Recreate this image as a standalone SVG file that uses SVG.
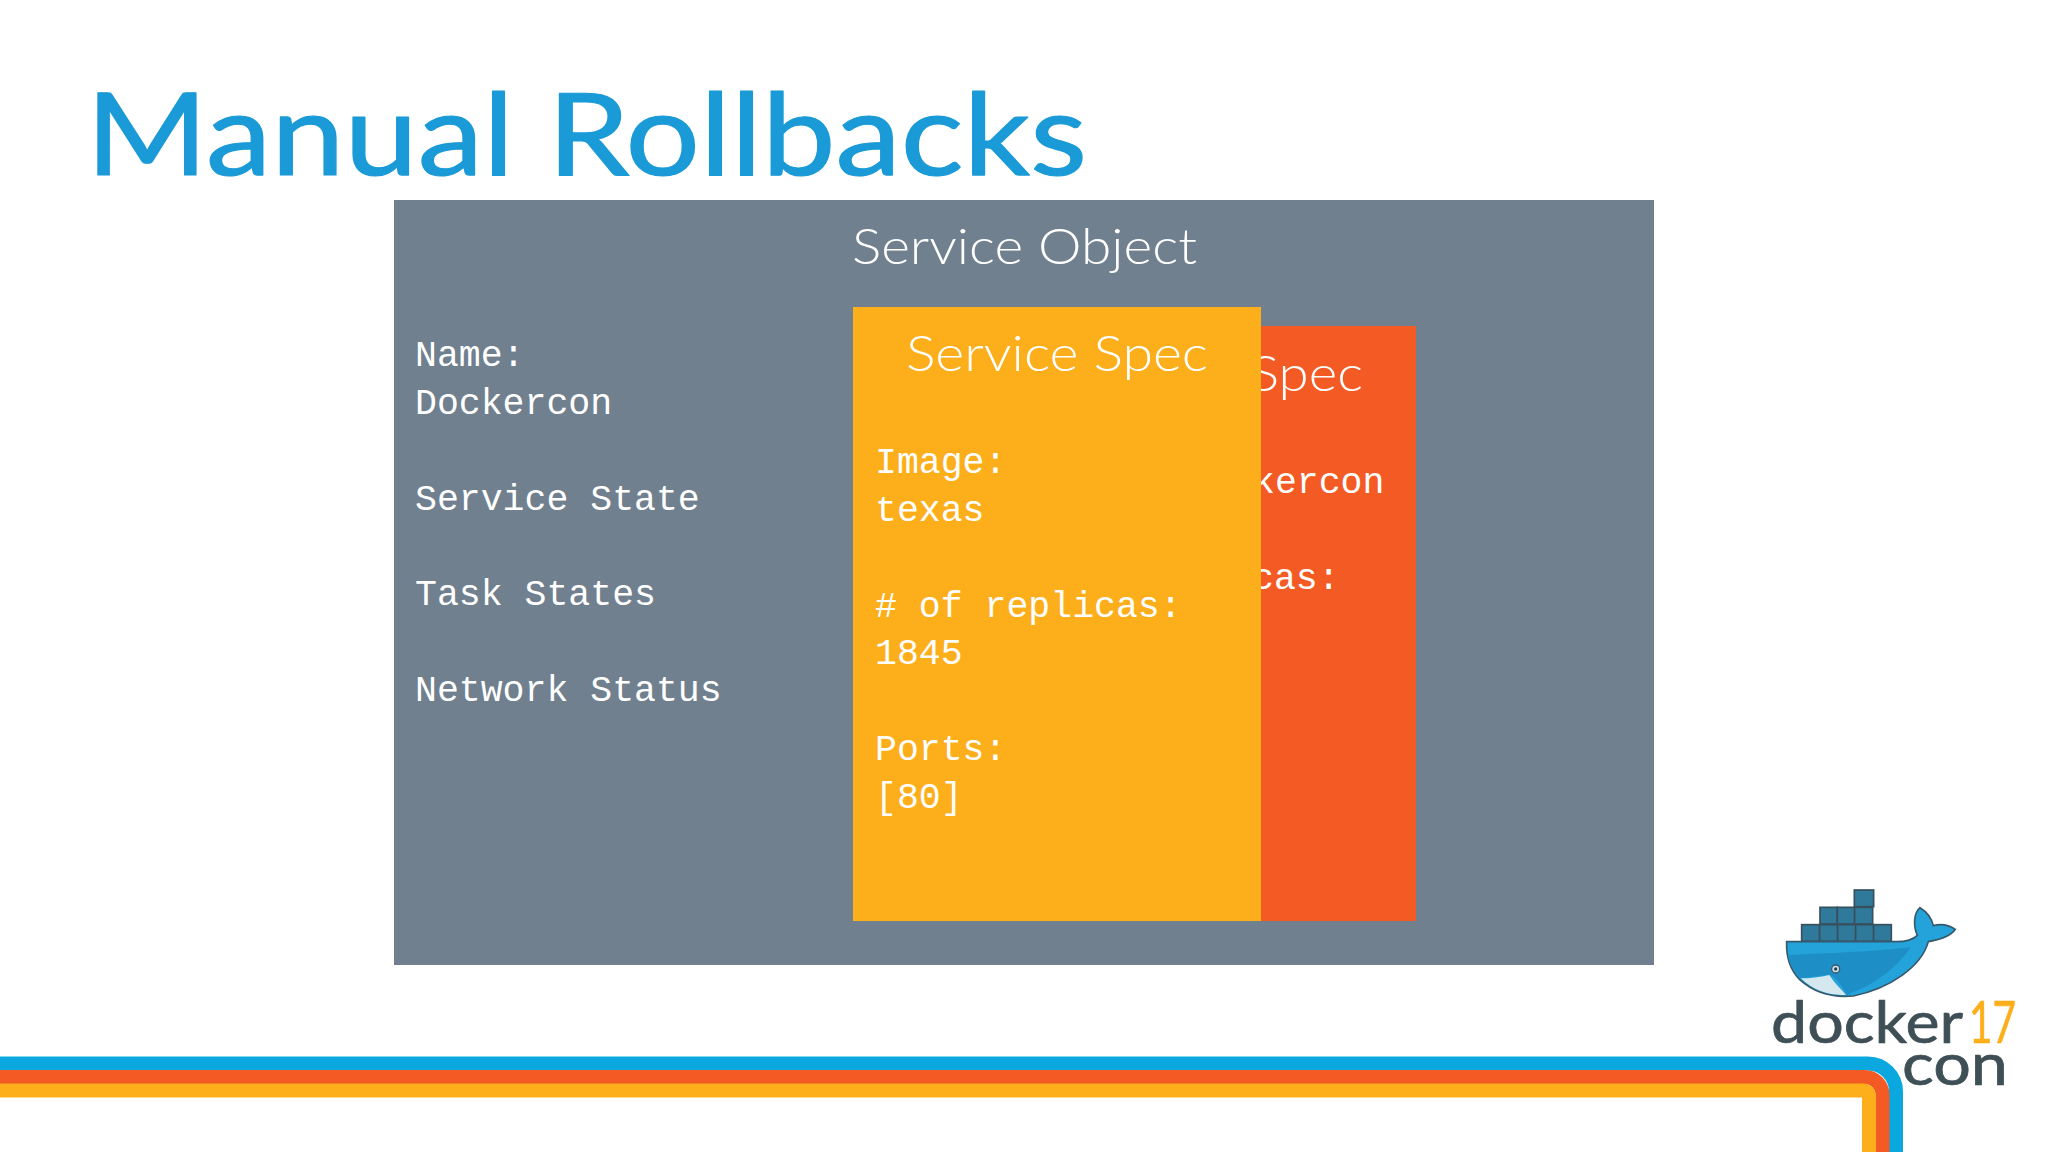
<svg xmlns="http://www.w3.org/2000/svg" width="2048" height="1152" viewBox="0 0 2048 1152">
<style>
.h{font-family:"Lato","Noto Sans",sans-serif;font-weight:300;font-size:49px;fill:#fff}
.m{font-family:"Liberation Mono","DejaVu Sans Mono",monospace;font-size:36.5px;fill:#fff}
.l{font-family:"Lato","Noto Sans",sans-serif;font-weight:400;font-size:58px;stroke-width:.7;stroke-linejoin:round}
.s{fill:none;stroke-width:14}
</style>
<rect width="2048" height="1152" fill="#fff"/>
<text id="title" x="86" y="175" font-family="Lato,'Noto Sans',sans-serif" font-size="114" fill="#1a9ad6" stroke="#1a9ad6" stroke-width="1.2" stroke-linejoin="round" textLength="1001" lengthAdjust="spacingAndGlyphs">Manual Rollbacks</text>
<g id="service-object">
<rect x="394" y="200" width="1260" height="765" fill="#70808f"/>
<text class="h" x="852" y="264" textLength="345" lengthAdjust="spacingAndGlyphs">Service Object</text>
<text class="m" x="415" y="366">Name:</text>
<text class="m" x="415" y="414">Dockercon</text>
<text class="m" x="415" y="510">Service State</text>
<text class="m" x="415" y="605">Task States</text>
<text class="m" x="415" y="701">Network Status</text>
</g>
<g id="service-spec-back">
<rect x="1100" y="326" width="316" height="595" fill="#f45b24"/>
<text class="h" x="1250" y="391" textLength="113" lengthAdjust="spacingAndGlyphs">Spec</text>
<text class="m" x="1253" y="493">kercon</text>
<text class="m" x="1252" y="589">cas:</text>
</g>
<g id="service-spec-front">
<rect x="853" y="307" width="408" height="614" fill="#fdae1b"/>
<text class="h" x="906" y="371" textLength="302" lengthAdjust="spacingAndGlyphs">Service Spec</text>
<text class="m" x="875" y="473">Image:</text>
<text class="m" x="875" y="521">texas</text>
<text class="m" x="875" y="617"># of replicas:</text>
<text class="m" x="875" y="664">1845</text>
<text class="m" x="875" y="760">Ports:</text>
<text class="m" x="875" y="808">[80]</text>
</g>
<g id="stripes">
<path class="s" stroke="#0aa8df" d="M0 1063.500H1868A28 28 0 0 1 1896 1091.500V1152"/>
<path class="s" stroke="#f45b24" d="M0 1077H1864.500A18 18 0 0 1 1882.500 1095V1152"/>
<path class="s" stroke="#fdae1b" d="M0 1090.500H1863A6 6 0 0 1 1869 1096.500V1152"/>
</g>
<g id="docker-logo">
<g transform="translate(1700 860) scale(.3333)">
<g fill="#2f7a9b" stroke="#38505e" stroke-width="5">
<rect x="463" y="90" width="58" height="50"/>
<rect x="360" y="142" width="52" height="50"/><rect x="412" y="142" width="52" height="50"/><rect x="464" y="142" width="54" height="50"/>
<rect x="305" y="194" width="54" height="50"/><rect x="359" y="194" width="54" height="50"/><rect x="413" y="194" width="54" height="50"/><rect x="467" y="194" width="54" height="50"/><rect x="521" y="194" width="53" height="50"/>
</g>
<path d="M260 245H590C615 245 640 238 652 226C640 200 640 160 660 143C680 155 695 175 700 197C725 190 750 197 766 208C750 232 715 240 685 245C665 320 570 385 460 408C400 414 345 400 300 360C270 330 258 290 260 245Z" fill="#23a3d9" stroke="#37586a" stroke-width="5"/>
<path d="M263 285C380 280 520 275 632 262C600 310 540 370 440 404C420 370 400 340 380 345L300 355C280 330 268 310 263 285Z" fill="#1d8fc6"/>
<path d="M303 355C330 355 360 352 388 345C400 365 420 385 438 404C400 408 340 395 303 355Z" fill="#d5e8ef"/>
<circle cx="407" cy="327" r="12" fill="#cfe3ec" stroke="#37586a" stroke-width="4"/><circle cx="407" cy="327" r="5" fill="#24404f"/>
</g>
<text class="l" x="1771" y="1043" fill="#3f4f56" stroke="#3f4f56" textLength="192" lengthAdjust="spacingAndGlyphs">docker</text>
<text class="l" x="1969" y="1043" fill="#fdae1b" stroke="#fdae1b" textLength="47" lengthAdjust="spacingAndGlyphs">17</text>
<text class="l" x="1902" y="1085" fill="#3f4f56" stroke="#3f4f56" font-size="64" textLength="106" lengthAdjust="spacingAndGlyphs">con</text>
</g>
</svg>
